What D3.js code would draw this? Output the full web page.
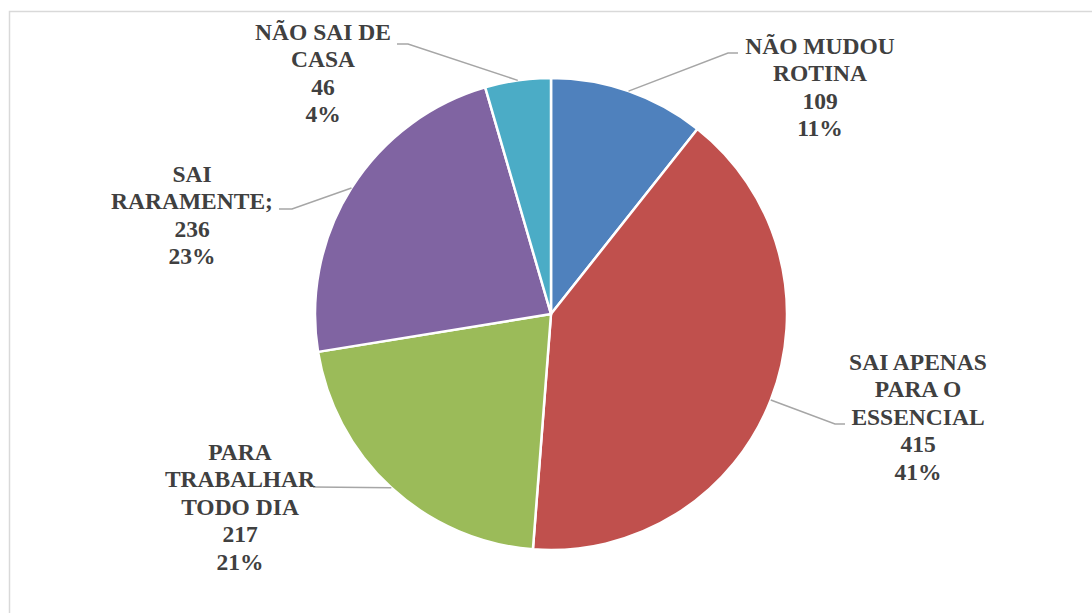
<!DOCTYPE html>
<html>
<head>
<meta charset="utf-8">
<script src="https://d3js.org/d3.v7.min.js"></script>
<style>
  body { margin: 0; background: #fff; }
  svg { display: block; }
</style>
</head>
<body>
<div id="chart"></div>
<script>
// data
const categories = ["NÃO MUDOU\nROTINA", "SAI APENAS\nPARA O\nESSENCIAL", "PARA\nTRABALHAR\nTODO DIA", "SAI\nRARAMENTE;", "NÃO SAI DE\nCASA"];
const values = [109, 415, 217, 236, 46];
const colors = ["#4F81BD", "#C0504D", "#9BBB59", "#8064A2", "#4BACC6"];

// label placement (center x, first baseline y) and leader elbow points
const labelPos = [[820, 54], [918, 370], [240, 460], [192, 182], [323, 40]];
const elbows = [[[728, 53], [738, 53]], [[835, 424], [845, 424]], [[313, 487], [313, 487]], [[292, 209], [279, 209]], [[408, 44], [397, 44]]];

var width = 1092, height = 613;
var cx = 551, cy = 314, radius = 236;

var svg = d3.select("#chart").append("svg")
    .attr("width", width)
    .attr("height", height);

// chart border
svg.append("rect")
    .attr("x", 9.5).attr("y", 11.5)
    .attr("width", 1200).attr("height", 800)
    .attr("fill", "none")
    .attr("stroke", "#d9d9d9")
    .attr("stroke-width", 1.5);

var total = d3.sum(values);
var data = values.map((v, i) => ({name: categories[i], value: v, color: colors[i], i: i}));

var pie = d3.pie().sort(null).value(d => d.value);
var arcs = pie(data);

var arc = d3.arc().innerRadius(0).outerRadius(radius);

var g = svg.append("g").attr("transform", "translate(" + cx + "," + cy + ")");

g.selectAll("path.slice")
    .data(arcs)
    .enter()
    .append("path")
    .attr("class", "slice")
    .attr("d", arc)
    .attr("fill", d => d.data.color)
    .attr("stroke", "#fff")
    .attr("stroke-width", 2.5)
    .attr("stroke-linejoin", "round");

// leader lines
arcs.forEach((d, i) => {
    var mid = (d.startAngle + d.endAngle) / 2;
    var sx = cx + radius * Math.sin(mid);
    var sy = cy - radius * Math.cos(mid);
    var pts = [[sx, sy]].concat(elbows[i]);
    svg.append("path")
        .attr("d", d3.line()(pts))
        .attr("fill", "none")
        .attr("stroke", "#a6a6a6")
        .attr("stroke-width", 1.5);
});

// labels
arcs.forEach((d, i) => {
    var lines = d.data.name.split("\n");
    lines.push(String(d.data.value));
    lines.push(Math.round(d.data.value / total * 100) + "%");
    var t = svg.append("text")
        .attr("text-anchor", "middle")
        .style("font-family", "Liberation Serif, Times New Roman, serif")
        .style("font-weight", "bold")
        .style("font-size", "23.5px")
        .attr("fill", "#404040");
    lines.forEach((ln, k) => {
        t.append("tspan")
            .attr("x", labelPos[i][0])
            .attr("y", labelPos[i][1] + k * 27.4)
            .text(ln);
    });
});
</script>
</body>
</html>
